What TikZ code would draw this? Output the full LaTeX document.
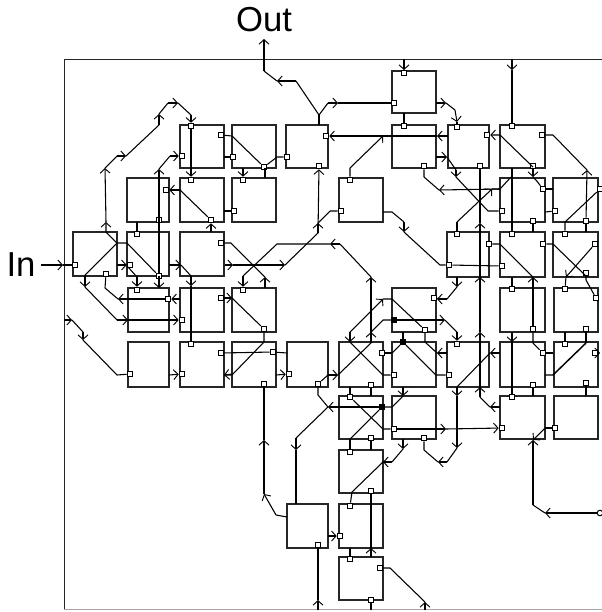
\documentclass[tikz,border=0pt]{standalone}
\usepackage{fontspec}
\setmainfont{Liberation Sans}
\usetikzlibrary{arrows.meta}
\tikzset{
 blockbox/.style={draw=black!85,line width=0.8pt,fill=none,inner sep=0pt},
 portbox/.style={draw=black,fill=white,line width=0.75pt,minimum size=4.2pt,inner sep=0pt},
 darkport/.style={draw=black,fill=black,line width=0.75pt,minimum size=3.6pt,inner sep=0pt},
 wire/.style={line width=0.8pt,black,line join=round},
 tip/.style={wire,-{Straight Barb[length=3.4pt,width=7.5pt,line width=0.7pt]}},
 label/.style={font=\fontsize{26}{26}\selectfont,inner sep=0pt}
}
\newcommand{\blk}[5]{\node[blockbox,minimum width={(#4-#2)*0.75pt},minimum height={(#5-#3)*0.75pt}] (#1) at ({(#2+#4)/2},{(#3+#5)/2}) {};}
\newcommand{\prt}[3]{\node[portbox] (#1) at (#2,#3) {};}
\newcommand{\dprt}[3]{\node[darkport] (#1) at (#2,#3) {};}
\newcommand{\wl}[1]{\draw[wire] #1;}
\newcommand{\wt}[1]{\draw[tip] #1;}
\begin{document}
\begin{tikzpicture}[x=0.75pt,y=-0.75pt]
\useasboundingbox (0,0) rectangle (602,612);
\node[label] (in) at (21,265) {In};
\node[label] (out) at (264,20) {Out};
\coordinate (ftl) at (64,59);\coordinate (ftr) at (602,59);\coordinate (fbl) at (64,609);\coordinate (fbr) at (602,609);
\draw[line width=0.7pt,black!85] (ftr)--(ftl)--(fbl);
\draw[line width=0.6pt,black!35] (fbl)--(fbr);
% blocks
\blk{a}{392}{71}{436}{113}
\blk{b1}{180}{125}{224}{168}\blk{b2}{232}{125}{276}{168}\blk{b3}{286}{125}{328}{168}\blk{b4}{392}{125}{436}{168}\blk{b5}{448}{125}{489}{168}\blk{b6}{500}{125}{545}{168}
\blk{c1}{127}{178}{169}{222}\blk{c2}{180}{178}{224}{222}\blk{c3}{232}{178}{276}{222}\blk{c4}{339}{178}{383}{222}\blk{c5}{500}{178}{545}{222}\blk{c6}{553}{178}{598}{222}
\blk{d1}{73}{232}{117}{276}\blk{d2}{127}{232}{169}{276}\blk{d3}{180}{232}{224}{276}\blk{d4}{447}{232}{489}{277}\blk{d5}{500}{232}{545}{277}\blk{d6}{553}{232}{598}{277}
\blk{e1}{128}{288}{169}{332}\blk{e2}{180}{288}{224}{332}\blk{e3}{232}{288}{276}{332}\blk{e4}{392}{288}{436}{332}\blk{e5}{500}{288}{545}{332}\blk{e6}{554}{288}{598}{332}
\blk{f1}{128}{342}{169}{387}\blk{f2}{180}{342}{224}{387}\blk{f3}{232}{342}{276}{387}\blk{f4}{287}{342}{328}{387}\blk{f5}{339}{342}{383}{387}\blk{f6}{392}{342}{436}{387}\blk{f7}{447}{342}{489}{387}\blk{f8}{500}{342}{545}{387}\blk{f9}{554}{342}{598}{387}
\blk{g1}{339}{396}{383}{439}\blk{g2}{392}{396}{436}{439}\blk{g3}{500}{396}{545}{439}\blk{g4}{554}{396}{598}{439}
\blk{h1}{339}{450}{383}{493}
\blk{i1}{287}{504}{328}{548}\blk{i2}{339}{504}{383}{548}
\blk{j1}{339}{557}{383}{600}
% ports
\prt{p1}{75}{265}\prt{p2}{404}{73}\prt{p3}{394}{103}\prt{p4}{404}{126}\prt{p5}{457}{127}\prt{p6}{326}{136}\prt{p7}{319}{166}\prt{p8}{424}{166}\prt{p9}{487}{135}\prt{p10}{480}{166}
\prt{p11}{512}{126}\prt{p12}{542}{135}\prt{p13}{533}{166}\prt{p14}{191}{126}\prt{p15}{182}{156}\prt{p16}{221}{135}\prt{p17}{233}{157}\prt{p18}{287}{157}\prt{p19}{264}{167}\prt{p20}{191}{180}
\prt{p21}{166}{190}\prt{p22}{243}{180}\prt{p23}{234}{211}\prt{p24}{211}{220}\prt{p25}{159}{220}\prt{p26}{137}{234}\prt{p27}{130}{265}\prt{p28}{106}{274}\prt{p29}{159}{276}\prt{p30}{221}{243}
\prt{p31}{243}{290}\prt{p32}{168}{299}\prt{p33}{137}{290}\prt{p34}{182}{320}\prt{p35}{221}{298}\prt{p36}{264}{329}\prt{p37}{191}{344}\prt{p38}{221}{353}\prt{p39}{273}{352}\prt{p40}{130}{374}
\prt{p41}{182}{374}\prt{p42}{289}{374}\prt{p43}{264}{384}\prt{p44}{318}{384}\prt{p45}{350}{180}\prt{p46}{341}{211}\prt{p47}{449}{265}\prt{p48}{502}{266}\prt{p49}{457}{234}\prt{p50}{489}{244}
\prt{p51}{543}{244}\prt{p52}{512}{234}\prt{p53}{502}{211}\prt{p54}{543}{189}\prt{p55}{555}{211}\prt{p56}{533}{221}\prt{p57}{586}{221}\prt{p58}{600}{189}\prt{p59}{565}{234}\prt{p60}{595}{244}
\prt{p61}{586}{273}\prt{p62}{596}{298}\prt{p63}{512}{289}\prt{p64}{565}{289}\prt{p65}{533}{329}\prt{p66}{586}{329}\prt{p67}{434}{298}\prt{p68}{425}{330}\dprt{p69}{394}{320}\dprt{p71}{403}{342}
\prt{p72}{382}{353}\prt{p73}{394}{375}\prt{p74}{449}{375}\prt{p75}{457}{344}\prt{p76}{543}{353}\prt{p77}{595}{353}\prt{p78}{350}{397}\prt{p79}{371}{385}\dprt{p80}{382}{407}\prt{p81}{394}{429}
\prt{p82}{424}{438}\prt{p83}{371}{438}\prt{p84}{350}{452}\prt{p85}{371}{491}\prt{p86}{350}{506}\prt{p87}{340}{536}\prt{p88}{318}{545}\prt{p89}{350}{559}\prt{p90}{371}{600}\prt{p91}{380}{568}
\prt{p92}{512}{397}\prt{p93}{533}{385}\prt{p94}{586}{383}\prt{p95}{502}{428}\prt{p96}{555}{428}\node[portbox,circle] (p97) at (600,513) {};\prt{p98}{565}{344}
% in / out
\wt{(41,265)--(63,265)}\wl{(63,265)--(p1)}
\wt{(264,71)--(264,39)}
\wl{(277,81)--(264,71)}\wt{(296,81)--(277,81)}\wl{(319,115)--(296,81)}
\wl{(319,125)--(319,115)}
\wl{(319,115)--(328,103)}\wt{(328,103)--(338,103)}\wl{(338,103)--(p3)}
% top block
\wt{(404,59)--(404,70)}\wl{(404,70)--(p2)}
\wl{(404,113)--(p4)}
\wt{(436,103)--(446,103)}\wl{(446,103)--(455,110)}\wt{(455,110)--(457,122)}\wl{(457,122)--(p5)}
% row 2 right
\wt{(436,157)--(447,157)}\wl{(447,157)--(456,170)}\wt{(456,170)--(456,177)}\wl{(456,177)--(488,211)--(p53)}
\wt{(500,189)--(439,190)}\wl{(439,190)--(424,177)--(p8)}
\wl{(p49)--(457,222)}\wt{(457,222)--(492,189)}\wl{(492,189)--(500,189)--(511,177)}
\wt{(448,136)--(437,136)}\wt{(437,136)--(p6)}
\wt{(p45)--(350,168)--(383,136)}
\wt{(512,59)--(512,70)}\wl{(512,70)--(p11)}
\wt{(533,167)--(500,135)--(p9)}
\wl{(p12)--(553,135)--(587,170)}\wt{(p57)--(587,170)}\wl{(586,232)--(p57)}
\wl{(512,168)--(p52)}
\wt{(p13)--(533,177)}\wl{(533,177)--(536,180)--(p54)}\wl{(553,189)--(p54)}
\wl{(545,212)--(p55)}
\wl{(533,232)--(p56)}
\wl{(p59)--(565,222)--(p58)}
\wt{(500,407)--(490,407)}\wl{(490,407)--(480,397)}
\wt{(480,397)--(480,387)}\wt{(480,387)--(480,332)}\wt{(480,332)--(480,277)}\wt{(480,277)--(480,223)}\wl{(480,223)--(p10)}
% middle
\wl{(383,212)--(392,212)--(404,222)}\wt{(404,222)--(404,232)}\wl{(404,232)--(440,265)--(p47)}
\wl{(p47)--(p48)}
\wl{(533,277)--(500,244)--(p50)}
\wl{(p51)--(553,244)--(587,277)}
\wt{(p60)--(566,277)}\wl{(566,277)--(p64)}
\wt{(p65)--(533,277)}
\wl{(512,277)--(p63)}
\wl{(p61)--(586,280)--(p62)}
\wl{(587,277)--(p61)}
\wt{(512,332)--(512,342)}\wl{(512,342)--(p92)}
\wl{(p65)--(533,343)--(p76)}\wl{(545,353)--(553,353)}
\wl{(565,332)--(p98)}
\wl{(p66)--(586,343)}\draw[wire,line width=1.1pt] (586,343)--(553,375)--(545,375);
\wl{(586,396)--(p94)}\wl{(533,396)--(p93)}
\wt{(p77)--(600,353)}
\wl{(545,428)--(p96)}
\wt{(545,428)--(533,440)}\wt{(533,495)--(533,440)}\wl{(533,505)--(533,495)}\wt{(p97)--(545,513)}\wl{(545,513)--(533,505)}
\wt{(p81)--(446,429)}\wt{(446,429)--(p95)}
\wt{(457,387)--(457,396)}\wt{(457,396)--(457,448)}\wl{(457,448)--(447,462)}\wt{(447,462)--(438,462)}\wl{(438,462)--(424,450)--(p82)}
\wt{(403,439)--(403,449)}\wl{(403,449)--(392,462)}\wt{(392,462)--(383,462)}\wl{(383,462)--(352,492)--(p86)}
\wl{(350,439)--(p84)}\wl{(371,450)--(p83)}
\wt{(371,557)--(371,548)}\wl{(371,548)--(p85)}
\wl{(371,610)--(p90)}
\wl{(350,548)--(p89)}
\wt{(328,536)--(p87)}
\wt{(318,610)--(318,600)}\wl{(318,600)--(p88)}
\wl{(p91)--(390,568)--(425,602)}\wt{(425,610)--(425,602)}
% cross f5/f6
\wt{(350,332)--(350,342)}\wt{(350,332)--(383,299)}
\wl{(383,299)--(392,299)--(p68)}
\wl{(350,342)--(383,375)--(p73)}
\wl{(425,332)--(425,342)--(437,353)}\wt{(447,353)--(437,353)}
\wl{(p44)--(328,375)}\wt{(328,375)--(338,375)}\wl{(338,375)--(371,343)}
\wt{(371,343)--(371,332)}\wl{(371,332)--(383,320)--(p69)}
\wt{(p69)--(445,320)}\wl{(445,320)--(457,332)}\wt{(457,332)--(p75)}
\wt{(371,343)--(371,277)}\wl{(371,277)--(340,244)}\wt{(340,244)--(330,244)}\wl{(330,244)--(277,244)--(243,276)}\wt{(243,276)--(p31)}
\wl{(403,332)--(p71)}
\wl{(392,353)--(p72)}\wl{(392,353)--(p71)}
\wl{(p71)--(436,375)--(p74)}
\wt{(500,353)--(490,353)}\wl{(490,353)--(457,387)}
\wl{(350,387)--(p78)}\wl{(p78)--(383,429)--(p81)}
\wl{(371,396)--(p79)}
\wt{(p80)--(328,407)}\wl{(328,407)--(318,395)--(p44)}
\wl{(328,407)--(296,438)}\wt{(296,438)--(296,450)}\wl{(296,450)--(296,504)}
\wl{(p80)--(392,407)--(403,396)}\wt{(403,387)--(403,396)}
\wl{(p80)--(350,439)}
\wl{(p67)--(447,299)--(457,287)}\wt{(447,299)--(437,299)}\wt{(457,277)--(457,287)}
% left
\wt{(p29)--(159,169)}\wl{(159,169)--(170,156)}\wt{(170,156)--(p15)}
\wl{(137,222)--(p26)}
\wl{(85,275)--(117,243)--(127,243)--(p29)}
\wt{(117,243)--(106,232)--(106,222)}
\wt{(106,222)--(105,168)}\wl{(105,168)--(117,156)}\wt{(117,156)--(126,156)}\wl{(126,156)--(159,125)}\wt{(159,125)--(159,114)}\wl{(159,114)--(168,103)}\wt{(168,103)--(178,103)}\wl{(178,103)--(191,115)}\wt{(191,115)--(p14)}
\wt{(p14)--(p20)}
\wl{(224,157)--(p17)}
\wl{(p16)--(232,136)--(p19)}
\wl{(p19)--(277,157)--(p18)}
\wl{(265,168)--(265,178)}\wt{(243,168)--(p22)}
\wl{(224,211)--(p23)}
\wt{(180,190)--(p21)}\wl{(180,190)--(p24)}\wt{(211,232)--(p24)}
\wt{(85,275)--(85,287)}\wl{(85,287)--(117,320)}\wt{(117,320)--(128,320)}\wt{(128,320)--(p34)}
\wl{(p28)--(105,288)--(118,299)}\wt{(p32)--(118,299)}
\wt{(180,299)--(p32)}
\wt{(117,265)--(p27)}
\wl{(128,267)--(137,277)}\wt{(137,277)--(p33)}
\wt{(159,276)--(159,288)}
\wt{(169,265)--(181,265)}\wl{(181,265)--(191,276)}\wt{(191,276)--(191,286)}\wl{(191,286)--(p37)}
\wl{(p30)--(231,243)--(265,277)}\wt{(265,288)--(265,277)}
\wt{(225,265)--(233,265)}\wt{(233,265)--(285,265)}\wl{(285,265)--(318,233)}
\wt{(318,233)--(318,223)}\wl{(318,223)--(330,211)--(p46)}
\wt{(318,233)--(p7)}
\wt{(p35)--(232,298)}\wl{(232,298)--(p36)}
\wl{(p36)--(264,342)--(232,375)--(224,375)}
\wt{(233,374)--(224,375)}
\wl{(p38)--(p39)}\wl{(287,353)--(p39)}
\wt{(64,320)--(72,320)}\wl{(72,320)--(83,332)}\wt{(83,332)--(83,340)}\wl{(83,340)--(117,375)--(p40)}
\wt{(169,375)--(p41)}
\wt{(276,375)--(p42)}
\wt{(264,494)--(264,440)}\wl{(264,440)--(p43)}\wl{(287,517)--(276,515)}\wt{(276,515)--(264,494)}
\end{tikzpicture}
\end{document}
